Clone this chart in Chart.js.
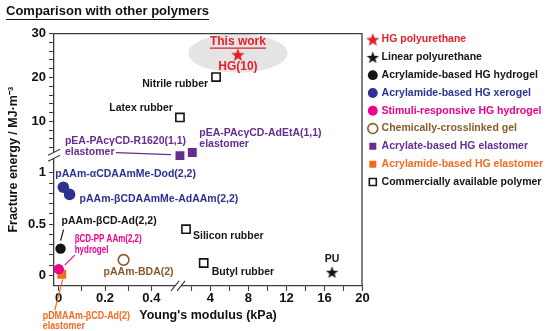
<!DOCTYPE html>
<html>
<head>
<meta charset="utf-8">
<script src="https://cdn.jsdelivr.net/npm/chart.js@4.4.1/dist/chart.umd.min.js"></script>
<style>
  html, body { margin: 0; padding: 0; background: #fff; }
  #wrap { width: 550px; height: 331px; }
</style>
</head>
<body>
<div id="wrap"><canvas id="chart"></canvas></div>
<script>
// ---- data ----
const groupNames = [
    "HG polyurethane",
    "Linear polyurethane",
    "Acrylamide-based HG hydrogel",
    "Acrylamide-based HG xerogel",
    "Stimuli-responsive HG hydrogel",
    "Chemically-crosslinked gel",
    "Acrylate-based HG elastomer",
    "Acrylamide-based HG elastomer",
    "Commercially available polymer"
];
const groupColors = ["#e41f26", "#151515", "#151515", "#2e3192", "#ec008c", "#8b5a2b", "#662d91", "#f26b21", "#151515"];

const sampleNames = [
    "HG(10)", "PU", "pAAm-βCD-Ad(2,2)", "pAAm-αCDAAmMe-Dod(2,2)", "pAAm-βCDAAmMe-AdAAm(2,2)",
    "βCD-PP AAm(2,2)", "pAAm-BDA(2)", "pEA-PAcγCD-R1620(1,1)", "pEA-PAcγCD-AdEtA(1,1)",
    "pDMAAm-βCD-Ad(2)", "Nitrile rubber", "Latex rubber", "Silicon rubber", "Butyl rubber"
];
const sampleGroup = [0, 1, 2, 3, 3, 4, 5, 6, 6, 7, 8, 8, 8, 8];
const youngsModulus = [6.9, 16.8, 0.008, 0.02, 0.047, 0.0, 0.28, 0.8, 2.1, 0.013, 4.6, 0.8, 1.44, 3.3];   // kPa
const fractureEnergy = [25.2, 0.03, 0.26, 0.86, 0.79, 0.06, 0.15, 2.2, 2.9, 0.01, 20.1, 10.9, 0.45, 0.12]; // MJ/m3

const xTickLabels = [0, 0.2, 0.4, 4, 8, 12, 16, 20];
const xMinorTicks = [0.1, 0.3, 2, 6, 10, 14, 18];
const yTickLabels = [0, 0.5, 1, 10, 20, 30];
const yMinorTicks = [0.1, 0.2, 0.3, 0.4, 0.6, 0.7, 0.8, 0.9, 4, 6, 8, 12, 14, 16, 18, 22, 24, 26, 28];

// ---- broken axes: piecewise mapping onto one linear scale ----
function tx(v) { return v < 0.55 ? v * 233 : 120 + (v - 0.6) * 9.56; }
function ty(v) { return v < 1.6 ? v * 101.5 : 152.5 + (v - 10) * 4.35; }
const X_BREAK = 120, Y_BREAK = 119;

function makeTicks(major, minor, fn) {
    let list = major.map(v => ({ value: fn(v), label: String(v) }))
        .concat(minor.map(v => ({ value: fn(v), label: "" })));
    list.sort((a, b) => a.value - b.value);
    return list;
}
const xTicks = makeTicks(xTickLabels, xMinorTicks, tx);
const yTicks = makeTicks(yTickLabels, yMinorTicks, ty);

function makeStar(color, size) {
    let c = document.createElement("canvas");
    c.width = size; c.height = size;
    let g = c.getContext("2d");
    let r = size / 2, ri = r * 0.42;
    g.beginPath();
    for (let i = 0; i < 10; i++) {
        let a = -Math.PI / 2 + i * Math.PI / 5;
        let rr = i % 2 ? ri : r;
        g.lineTo(r + rr * Math.cos(a), r + 0.6 + rr * Math.sin(a));
    }
    g.closePath();
    g.fillStyle = color;
    g.fill();
    return c;
}

const markerStyle = [
    { pointStyle: makeStar("#e41f26", 14) },
    { pointStyle: makeStar("#151515", 13) },
    { pointStyle: "circle", radius: 5.2 },
    { pointStyle: "circle", radius: 5.8 },
    { pointStyle: "circle", radius: 5.2 },
    { pointStyle: "circle", radius: 5.3, open: true },
    { pointStyle: "rect", radius: 6.3 },
    { pointStyle: "rect", radius: 6.3 },
    { pointStyle: "rect", radius: 5.8, open: true }
];

const datasets = groupNames.map((name, g) => {
    let pts = [];
    sampleGroup.forEach((sg, i) => {
        if (sg === g) pts.push({ x: tx(youngsModulus[i]), y: ty(fractureEnergy[i]), name: sampleNames[i] });
    });
    let m = markerStyle[g];
    return {
        label: name,
        data: pts,
        pointStyle: m.pointStyle,
        pointRadius: m.radius || 7,
        backgroundColor: m.open ? "#ffffff" : groupColors[g],
        borderColor: groupColors[g],
        borderWidth: m.open ? 1.6 : 0
    };
});

// ---- point label layout (pixel offsets from marker) ----
const labelLayout = {
    "HG(10)": { lines: [["HG(10)", 0, 12]], align: "center", font: 12 },
    "PU": { lines: [["PU", 0, -13]], align: "center" },
    "Nitrile rubber": { lines: [["Nitrile rubber", -8, 7]], align: "right" },
    "Latex rubber": { lines: [["Latex rubber", -7, -9]], align: "right" },
    "pEA-PAcγCD-R1620(1,1)": { lines: [["pEA-PAcγCD-R1620(1,1)", -115, -15], ["elastomer", -115, -4]], line: [-64, -3, -9, -1] },
    "pEA-PAcγCD-AdEtA(1,1)": { lines: [["pEA-PAcγCD-AdEtA(1,1)", 7, -19], ["elastomer", 7, -8]] },
    "pAAm-αCDAAmMe-Dod(2,2)": { lines: [["pAAm-αCDAAmMe-Dod(2,2)", -8, -13]] },
    "pAAm-βCDAAmMe-AdAAm(2,2)": { lines: [["pAAm-βCDAAmMe-AdAAm(2,2)", 10, 5]] },
    "pAAm-βCD-Ad(2,2)": { lines: [["pAAm-βCD-Ad(2,2)", 1, -28]], line: [3, -19, 0, -8] },
    "βCD-PP AAm(2,2)": { lines: [["βCD-PP AAm(2,2)", 16, -30], ["hydrogel", 16, -19]], line: [6, -4, 16, -14], font: 10.5, squeeze: 0.76 },
    "pDMAAm-βCD-Ad(2)": { lines: [["pDMAAm-βCD-Ad(2)", -19, 42], ["elastomer", -19, 52]], line: [1, 5, -7, 36], font: 10.5, squeeze: 0.85 },
    "pAAm-BDA(2)": { lines: [["pAAm-BDA(2)", -20, 12]] },
    "Silicon rubber": { lines: [["Silicon rubber", 7, 7]] },
    "Butyl rubber": { lines: [["Butyl rubber", 8, 9]] }
};

const FONT = "Arial, 'Liberation Sans', sans-serif";
const AXIS = "#3c3c3c";

const decorPlugin = {
    id: "decor",
    afterLayout(chart) {
        // legend sits a little right of the plot and below the title
        let lg = chart.legend;
        let dx = chart.chartArea.right - lg.left;
        lg.left += dx; lg.right += dx;
        lg.top += 27; lg.bottom += 27;
    },
    beforeDatasetsDraw(chart) {
        // grey halo around "this work"
        let ctx = chart.ctx;
        let ds = chart.getDatasetMeta(0).data[0];
        ctx.save();
        ctx.fillStyle = "#e4e4e4";
        ctx.beginPath();
        ctx.ellipse(ds.x, ds.y - 1.5, 49.5, 19.5, 0, 0, Math.PI * 2);
        ctx.fill();
        ctx.restore();
    },
    afterDraw(chart) {
        let ctx = chart.ctx;
        let a = chart.chartArea;
        let xs = chart.scales.x, ys = chart.scales.y;
        ctx.save();
        // frame top & right
        ctx.strokeStyle = AXIS;
        ctx.lineWidth = 1.3;
        ctx.beginPath();
        ctx.moveTo(a.left, a.top); ctx.lineTo(a.right, a.top); ctx.lineTo(a.right, a.bottom);
        ctx.stroke();

        // axis breaks
        let bx = xs.getPixelForValue(X_BREAK), by = ys.getPixelForValue(Y_BREAK);
        ctx.fillStyle = "#fff";
        ctx.fillRect(bx - 3, a.bottom - 3, 6, 6);
        ctx.fillRect(a.left - 3, by - 3, 6, 6);
        ctx.lineWidth = 1.1;
        ctx.beginPath();
        [-3, 3].forEach(o => {
            ctx.moveTo(bx + o - 4, a.bottom + 5); ctx.lineTo(bx + o + 4, a.bottom - 5);
            ctx.moveTo(a.left - 6, by + o + 3); ctx.lineTo(a.left + 6, by + o - 3);
        });
        ctx.stroke();

        // title underline
        let tb = chart.titleBlock;
        ctx.font = "bold 13px " + FONT;
        let tw = ctx.measureText(chart.options.plugins.title.text).width;
        ctx.strokeStyle = "#111";
        ctx.lineWidth = 1;
        ctx.beginPath();
        ctx.moveTo(tb.left, tb.top + 19.5); ctx.lineTo(tb.left + tw, tb.top + 19.5);
        ctx.stroke();

        // point labels
        chart.data.datasets.forEach((d, di) => {
            chart.getDatasetMeta(di).data.forEach((el, pi) => {
                let lay = labelLayout[d.data[pi].name];
                if (!lay) return;
                let col = groupColors[di];
                ctx.fillStyle = col;
                ctx.strokeStyle = col;
                ctx.font = "bold " + (lay.font || 10.5) + "px " + FONT;
                ctx.textAlign = lay.align || "left";
                ctx.textBaseline = "middle";
                lay.lines.forEach(l => {
                    ctx.save();
                    ctx.translate(el.x + l[1], el.y + l[2]);
                    ctx.scale(lay.squeeze || 1, 1);
                    ctx.fillText(l[0], 0, 0);
                    ctx.restore();
                });
                if (lay.line) {
                    ctx.lineWidth = 1.2;
                    ctx.beginPath();
                    ctx.moveTo(el.x + lay.line[0], el.y + lay.line[1]);
                    ctx.lineTo(el.x + lay.line[2], el.y + lay.line[3]);
                    ctx.stroke();
                }
                if (di === 0) {
                    ctx.font = "bold 12px " + FONT;
                    ctx.textAlign = "center";
                    ctx.fillText("This work", el.x, el.y - 13);
                    let w = ctx.measureText("This work").width;
                    ctx.lineWidth = 1.1;
                    ctx.beginPath();
                    ctx.moveTo(el.x - w / 2, el.y - 6.5); ctx.lineTo(el.x + w / 2, el.y - 6.5);
                    ctx.stroke();
                }
            });
        });
        ctx.restore();
    }
};

Chart.defaults.font.family = FONT;
Chart.defaults.color = "#111";

let ctx = document.getElementById("chart").getContext("2d");
new Chart(ctx, {
    type: "scatter",
    data: { datasets: datasets },
    plugins: [decorPlugin],
    options: {
        responsive: true,
        maintainAspectRatio: false,
        animation: false,
        layout: { padding: { left: 6, right: 0, top: 0, bottom: 7.5 } },
        plugins: {
            title: {
                display: true,
                text: "Comparison with other polymers",
                align: "start",
                color: "#111",
                font: { size: 13, weight: "bold" },
                padding: { top: 4, bottom: 14 }
            },
            legend: {
                position: "right",
                align: "start",
                maxWidth: 188,
                labels: {
                    usePointStyle: true,
                    boxWidth: 7,
                    boxHeight: 7,
                    padding: 7.3,
                    font: { size: 10.5, weight: "bold" },
                    generateLabels(chart) {
                        let items = Chart.defaults.plugins.legend.labels.generateLabels(chart);
                        items.forEach((it, i) => { it.fontColor = groupColors[i]; });
                        return items;
                    }
                }
            },
            tooltip: { enabled: false }
        },
        scales: {
            x: {
                type: "linear",
                min: tx(-0.02),
                max: 305,
                afterBuildTicks(scale) { scale.ticks = xTicks.map(t => ({ value: t.value })); },
                ticks: {
                    autoSkip: false,
                    maxRotation: 0,
                    padding: 0,
                    color: "#111",
                    font: { size: 13, weight: "bold" },
                    callback: (v, i) => xTicks[i].label
                },
                grid: { drawOnChartArea: false, drawTicks: true, tickLength: 5, color: AXIS, tickWidth: 1.1 },
                border: { display: true, color: AXIS, width: 1.3 },
                title: {
                    display: true,
                    text: "Young's modulus (kPa)",
                    color: "#111",
                    font: { size: 12.5, weight: "bold" },
                    padding: { top: 2, bottom: 0 }
                }
            },
            y: {
                type: "linear",
                min: -10.5,
                max: ty(30),
                afterBuildTicks(scale) { scale.ticks = yTicks.map(t => ({ value: t.value })); },
                ticks: {
                    autoSkip: false,
                    padding: 3,
                    color: "#111",
                    font: { size: 13, weight: "bold" },
                    callback: (v, i) => yTicks[i].label
                },
                grid: { drawOnChartArea: false, drawTicks: true, tickLength: 5, color: AXIS, tickWidth: 1.1 },
                border: { display: true, color: AXIS, width: 1.3 },
                title: {
                    display: true,
                    text: "Fracture energy / MJ·m⁻³",
                    color: "#111",
                    font: { size: 12.5, weight: "bold" },
                    padding: { top: 0, bottom: 4 }
                }
            }
        }
    }
});
</script>
</body>
</html>
